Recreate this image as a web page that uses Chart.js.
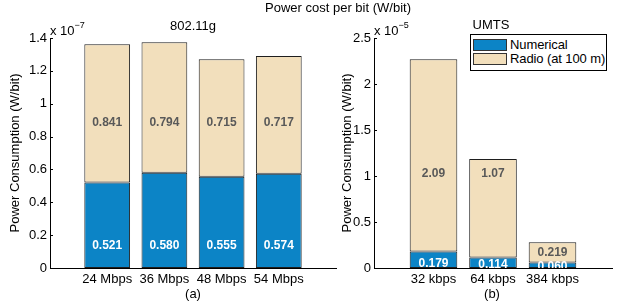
<!DOCTYPE html>
<html>
<head>
<meta charset="utf-8">
<script src="https://cdn.jsdelivr.net/npm/chart.js@4"></script>
<style>
body { margin: 0; background: #fff; }
#wrap { position: relative; width: 624px; height: 305px; font-family: 'Liberation Sans', Arial, sans-serif; color: #000; }
canvas { position: absolute; top: 0; }
.t { position: absolute; font-size: 13px; line-height: 1; white-space: nowrap; transform: translate(-50%, -50%); }
.mult { position: absolute; font-size: 13px; line-height: 1; white-space: nowrap; }
.mult sup { font-size: 9px; position: relative; top: -2px; }
#legend { position: absolute; left: 470px; top: 34px; width: 135px; height: 35px; border: 1px solid #000; background: #fff; font-size: 13px; }
#legend .row { position: absolute; left: 2px; height: 12px; }
#legend .sw { position: absolute; left: 0; top: 0; width: 32px; height: 10px; border: 1px solid #333; }
#legend .lb { position: absolute; left: 37px; top: -1px; line-height: 13px; white-space: nowrap; letter-spacing: -0.1px; }
</style>
</head>
<body>
<div id="wrap">
  <canvas id="wifi" width="340" height="305" style="left:0"></canvas>
  <canvas id="umts" width="304" height="305" style="left:320px"></canvas>
  <div class="t" style="left:338px; top:7px;">Power cost per bit (W/bit)</div>
  <div class="t" style="left:193px; top:25px;">802.11g</div>
  <div class="t" style="left:491px; top:24px;">UMTS</div>
  <div class="mult" style="left:50px; top:23px;">x 10<sup>−7</sup></div>
  <div class="mult" style="left:374px; top:23px;">x 10<sup>−5</sup></div>
  <div class="t" style="left:193px; top:293px;">(a)</div>
  <div class="t" style="left:492px; top:293px;">(b)</div>
  <div id="legend">
    <div class="row" style="top:4px"><div class="sw" style="background:#0c84c6"></div><div class="lb">Numerical</div></div>
    <div class="row" style="top:18px"><div class="sw" style="background:#f2dfbc"></div><div class="lb">Radio (at 100 m)</div></div>
  </div>
</div>
<script>
// 802.11g, values in 1e-7 W/bit
const wifiRates = ['24 Mbps', '36 Mbps', '48 Mbps', '54 Mbps'];
const wifiNumerical = [0.521, 0.580, 0.555, 0.574];
const wifiRadio = [0.841, 0.794, 0.715, 0.717];
const wifiTicks = [0, 0.2, 0.4, 0.6, 0.8, 1, 1.2, 1.4];

// UMTS, values in 1e-5 W/bit
const umtsRates = ['32 kbps', '64 kbps', '384 kbps'];
const umtsNumerical = [0.179, 0.114, 0.060];
const umtsRadio = [2.09, 1.07, 0.219];
const umtsTicks = [0, 0.5, 1, 1.5, 2, 2.5];

// where the value labels sit (y, axis units)
const wifiNumLabelAt = [0.14, 0.14, 0.14, 0.14];
const wifiRadioLabelAt = [0.89, 0.89, 0.89, 0.89];
const umtsNumLabelAt = [0.055, 0.05, 0.02];
const umtsRadioLabelAt = [1.04, 1.04, 0.174];

const BLUE = '#0c84c6';
const TAN = '#f2dfbc';
const EDGE = '#1e1e1e';

Chart.defaults.font.family = "'Liberation Sans', Arial, sans-serif";
Chart.defaults.font.size = 13;
Chart.defaults.color = '#000';

const fmt = v => v >= 1 ? v.toFixed(2) : v.toFixed(3);

// MATLAB style ticks pointing into the plot
const inwardTicks = {
    id: 'inwardTicks',
    afterDraw(chart) {
        const y = chart.scales.y;
        const ctx = chart.ctx;
        const x0 = chart.chartArea.left;
        ctx.save();
        ctx.strokeStyle = '#000';
        ctx.lineWidth = 1;
        y.ticks.forEach(t => {
            const py = Math.round(y.getPixelForValue(t.value)) + 0.5;
            ctx.beginPath();
            ctx.moveTo(x0, py);
            ctx.lineTo(x0 + 3, py);
            ctx.stroke();
        });
        ctx.restore();
    }
};

const barLabels = {
    id: 'barLabels',
    afterDatasetsDraw(chart, args, opts) {
        const ctx = chart.ctx;
        const a = chart.chartArea;
        const xs = chart.scales.x, ys = chart.scales.y;
        ctx.save();
        ctx.beginPath();
        ctx.rect(a.left, a.top, a.right - a.left, a.bottom - a.top);
        ctx.clip();
        ctx.font = "bold 12px 'Liberation Sans', Arial, sans-serif";
        ctx.textAlign = 'center';
        ctx.textBaseline = 'middle';
        opts.sets.forEach(s => {
            ctx.fillStyle = s.color;
            s.values.forEach((v, i) => {
                ctx.fillText(fmt(v), xs.getPixelForValue(i + 1), ys.getPixelForValue(s.at[i]) + 1);
            });
        });
        ctx.restore();
    }
};

function makeChart(id, rates, numerical, radio, ticks, xMax, axisWidth, padRight, titlePad, numAt, radioAt) {
    new Chart(document.getElementById(id), {
        type: 'bar',
        data: {
            datasets: [{
                label: 'Numerical',
                data: numerical.map((v, i) => ({ x: i + 1, y: v })),
                backgroundColor: BLUE,
                borderColor: EDGE,
                borderWidth: 1,
                borderSkipped: false,
                categoryPercentage: 1,
                barPercentage: 0.8
            }, {
                label: 'Radio (at 100 m)',
                data: radio.map((v, i) => ({ x: i + 1, y: v })),
                backgroundColor: TAN,
                borderColor: EDGE,
                borderWidth: 1,
                borderSkipped: false,
                categoryPercentage: 1,
                barPercentage: 0.8
            }]
        },
        options: {
            responsive: false,
            animation: false,
            layout: { padding: { top: 38, right: padRight, left: 0, bottom: 0 } },
            plugins: {
                legend: { display: false },
                tooltip: { enabled: false },
                barLabels: {
                    sets: [
                        { values: numerical, at: numAt, color: '#fff' },
                        { values: radio, at: radioAt, color: '#595959' }
                    ]
                }
            },
            scales: {
                x: {
                    type: 'linear',
                    stacked: true,
                    offset: false,
                    min: 0,
                    max: xMax,
                    grid: { display: false, drawTicks: false },
                    border: { display: true, color: '#000', width: 1 },
                    afterBuildTicks: s => { s.ticks = rates.map((_, i) => ({ value: i + 1 })); },
                    afterFit: s => { s.height = 37; },
                    ticks: {
                        padding: 4,
                        maxRotation: 0,
                        autoSkip: false,
                        callback: v => rates[v - 1]
                    }
                },
                y: {
                    stacked: true,
                    min: 0,
                    max: ticks[ticks.length - 1],
                    grid: { display: false, drawTicks: false },
                    border: { display: true, color: '#000', width: 1 },
                    afterBuildTicks: s => { s.ticks = ticks.map(v => ({ value: v })); },
                    afterFit: s => { s.width = axisWidth; },
                    ticks: {
                        padding: 3,
                        callback: v => String(+v.toFixed(2))
                    },
                    title: {
                        display: true,
                        text: 'Power Consumption (W/bit)',
                        padding: { top: titlePad, bottom: 0 }
                    }
                }
            }
        },
        plugins: [barLabels, inwardTicks]
    });
}

makeChart('wifi', wifiRates, wifiNumerical, wifiRadio, wifiTicks, 5, 50, 4, 8, wifiNumLabelAt, wifiRadioLabelAt);
makeChart('umts', umtsRates, umtsNumerical, umtsRadio, umtsTicks, 4, 54, 12, 20, umtsNumLabelAt, umtsRadioLabelAt);
</script>
</body>
</html>
